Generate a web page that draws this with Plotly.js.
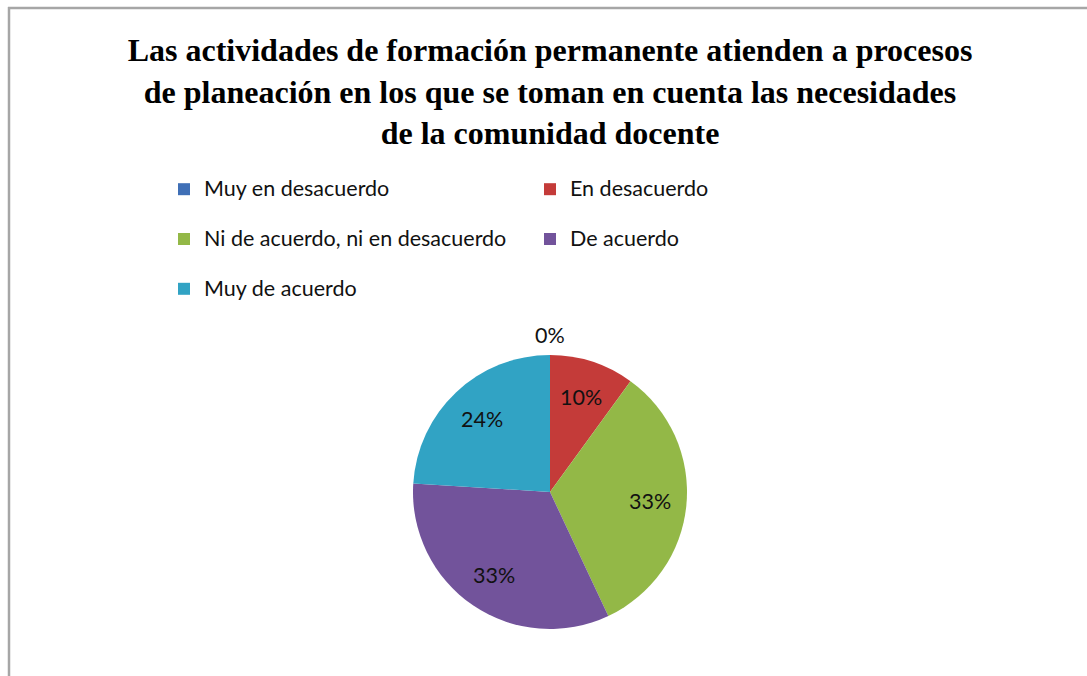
<!DOCTYPE html>
<html>
<head>
<meta charset="utf-8">
<script src="https://cdn.plot.ly/plotly-3.0.1.min.js"></script>
<style>
html,body{margin:0;padding:0;background:#fff;}
#chart{width:1087px;height:676px;}
</style>
</head>
<body>
<div id="chart"></div>
<script>
var categories = ["Muy en desacuerdo", "En desacuerdo", "Ni de acuerdo, ni en desacuerdo", "De acuerdo", "Muy de acuerdo"];
var values = [0, 10, 33, 33, 24];
var colors = ["#3f6fb6", "#c43b39", "#93b847", "#72539b", "#31a3c4"];
var titleText = "Las actividades de formación permanente atienden a procesos<br>de planeación en los que se toman en cuenta las necesidades<br>de la comunidad docente";

var W = 1087, H = 676;
var cx = 550, cy = 492, r = 137;
var labelFont = { family: "Lato, 'Noto Sans', sans-serif", size: 21.5, color: "#111111" };

var total = values.reduce(function(a, b) { return a + b; }, 0);
var legendNames = categories.map(function(c) {
  return "<span style='font-size:21.5px'>" + c + "</span><br> ";
});

var trace = {
  type: "pie",
  labels: legendNames,
  values: values,
  sort: false,
  direction: "clockwise",
  rotation: 0,
  marker: { colors: colors, line: { width: 0 } },
  textinfo: "none",
  hoverinfo: "percent",
  domain: { x: [(cx - r) / W, (cx + r) / W], y: [(H - cy - r) / H, (H - cy + r) / H] },
  showlegend: true
};

// percentage labels placed along each slice's bisector
var annotations = [];
var cum = 0;
values.forEach(function(v, i) {
  var pct = Math.round(v / total * 100) + "%";
  var mid = (cum + v / 2) / total * 2 * Math.PI;
  cum += v;
  var px, py;
  if (v === 0) {
    px = cx; py = cy - r - 20;
  } else {
    var d = 0.73 * r;
    px = cx + d * Math.sin(mid);
    py = cy - d * Math.cos(mid);
  }
  annotations.push({
    text: pct, xref: "paper", yref: "paper",
    x: px / W, y: 1 - py / H,
    xanchor: "center", yanchor: "middle",
    showarrow: false, font: labelFont
  });
});

var layout = {
  width: W,
  height: H,
  margin: { l: 0, r: 0, t: 0, b: 0 },
  paper_bgcolor: "#ffffff",
  title: {
    text: titleText,
    font: { family: "'Liberation Serif', 'Times New Roman', serif", size: 32, color: "#000000", weight: "bold" },
    x: 0.506, xanchor: "center",
    y: 1 - 61 / H, yanchor: "top"
  },
  legend: {
    orientation: "h",
    x: 164 / W, xanchor: "left",
    y: 1 - 171 / H, yanchor: "top",
    entrywidth: 321,
    entrywidthmode: "pixels",
    valign: "top",
    font: { family: "Lato, 'Noto Sans', sans-serif", size: 18, color: "#111111" },
    bgcolor: "rgba(0,0,0,0)",
    traceorder: "normal"
  },
  annotations: annotations,
  shapes: [
    { type: "line", xref: "paper", yref: "paper", x0: 9 / W, x1: 9 / W, y0: 0, y1: 1 - 7 / H,
      line: { color: "#a6a6a6", width: 2.5 } },
    { type: "line", xref: "paper", yref: "paper", x0: 8 / W, x1: 1, y0: 1 - 8 / H, y1: 1 - 8 / H,
      line: { color: "#a6a6a6", width: 2.5 } }
  ]
};

Plotly.newPlot("chart", [trace], layout, { displayModeBar: false, staticPlot: true });
</script>
</body>
</html>
